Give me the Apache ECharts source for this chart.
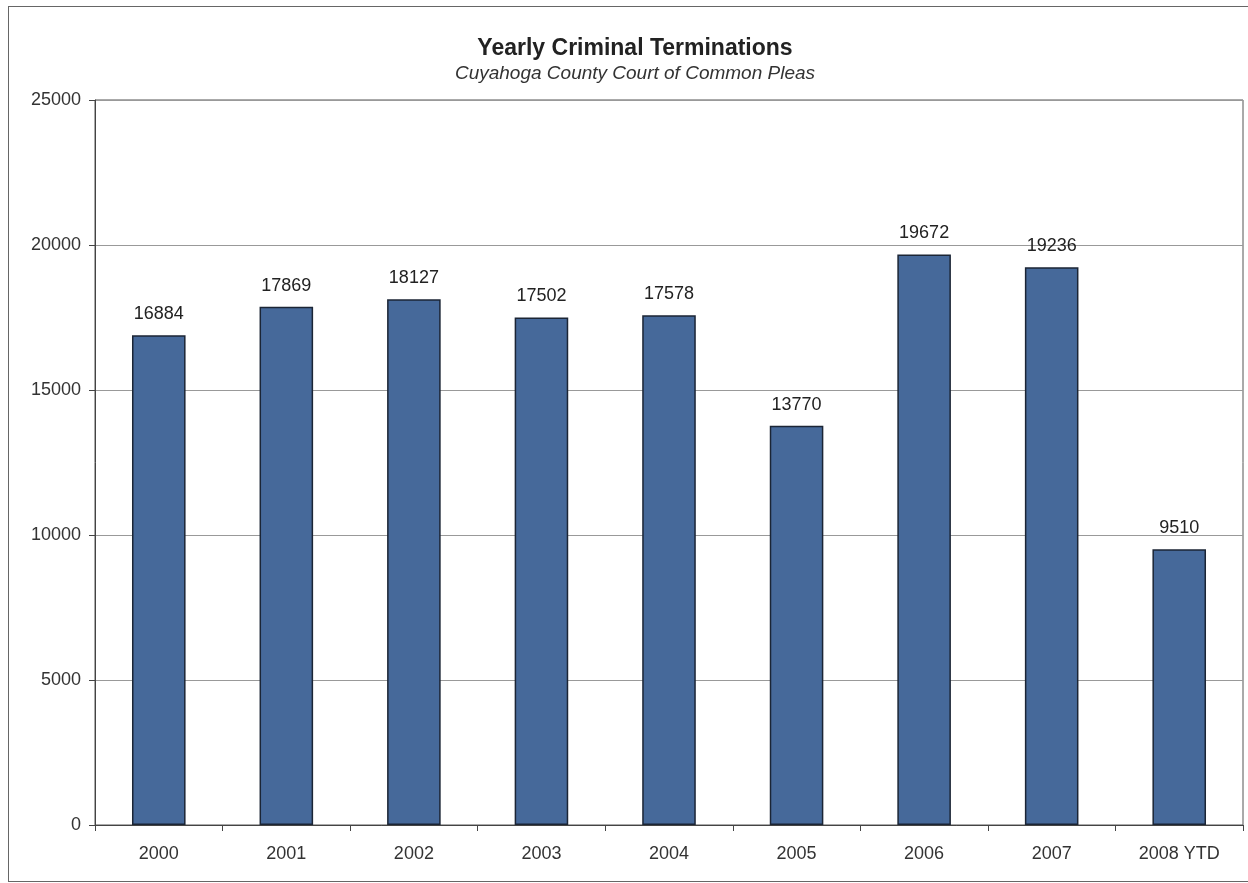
<!DOCTYPE html>
<html lang="en">
<head>
    <meta charset="UTF-8">
    <title>Yearly Criminal Terminations</title>
    <script src="https://cdn.jsdelivr.net/npm/echarts@6/dist/echarts.min.js"></script>
    <style>
        body {
            margin: 0;
            background: #fff;
        }
        .frame {
            position: absolute;
            left: 8px;
            top: 6px;
            width: 1260px;
            height: 874px;
            border: 1px solid #666;
        }
        #chart {
            width: 1248px;
            height: 883px;
        }
    </style>
</head>
<body>
<div class="frame"></div>
<div id="chart"></div>

<script>
    const years = ['2000', '2001', '2002', '2003', '2004', '2005', '2006', '2007', '2008 YTD'];
    const terminations = [16884, 17869, 18127, 17502, 17578, 13770, 19672, 19236, 9510];
    const yTicks = { min: 0, max: 25000, interval: 5000 };

    const chart = echarts.init(document.getElementById('chart'));
    const option = {
        backgroundColor: 'transparent',
        title: {
            text: 'Yearly Criminal Terminations',
            subtext: 'Cuyahoga County Court of Common Pleas',
            left: 630,
            textAlign: 'center',
            top: 32,
            itemGap: 4,
            textStyle: {
                fontFamily: 'Liberation Sans, Arial',
                fontSize: 23,
                fontWeight: 'bold',
                color: '#222'
            },
            subtextStyle: {
                fontFamily: 'Liberation Sans, Arial',
                fontSize: 19,
                fontStyle: 'italic',
                color: '#333'
            }
        },
        grid: {
            left: 95,
            right: 5,
            top: 100,
            bottom: 58,
            show: true,
            borderColor: '#555',
            borderWidth: 1
        },
        xAxis: {
            type: 'category',
            data: years,
            axisLine: { lineStyle: { color: '#444' } },
            axisTick: { show: true, length: 6, lineStyle: { color: '#444' } },
            axisLabel: {
                fontFamily: 'Liberation Sans, Arial',
                fontSize: 18,
                color: '#333',
                margin: 20
            }
        },
        yAxis: {
            type: 'value',
            min: yTicks.min,
            max: yTicks.max,
            interval: yTicks.interval,
            axisLine: { show: true, lineStyle: { color: '#444' } },
            axisTick: { show: true, length: 6, lineStyle: { color: '#444' } },
            splitLine: { lineStyle: { color: '#999', width: 1 } },
            axisLabel: {
                fontFamily: 'Liberation Sans, Arial',
                fontSize: 18,
                color: '#333',
                margin: 14,
                formatter: v => String(v)
            }
        },
        series: [
            {
                type: 'bar',
                data: terminations,
                barWidth: '42%',
                itemStyle: {
                    color: '#46699a',
                    borderColor: '#1b2535',
                    borderWidth: 1.5
                },
                label: {
                    show: true,
                    position: 'top',
                    distance: 12,
                    fontFamily: 'Liberation Sans, Arial',
                    fontSize: 18,
                    color: '#222'
                }
            }
        ]
    };
    chart.setOption(option);
    window.addEventListener('resize', chart.resize);
</script>
</body>
</html>
